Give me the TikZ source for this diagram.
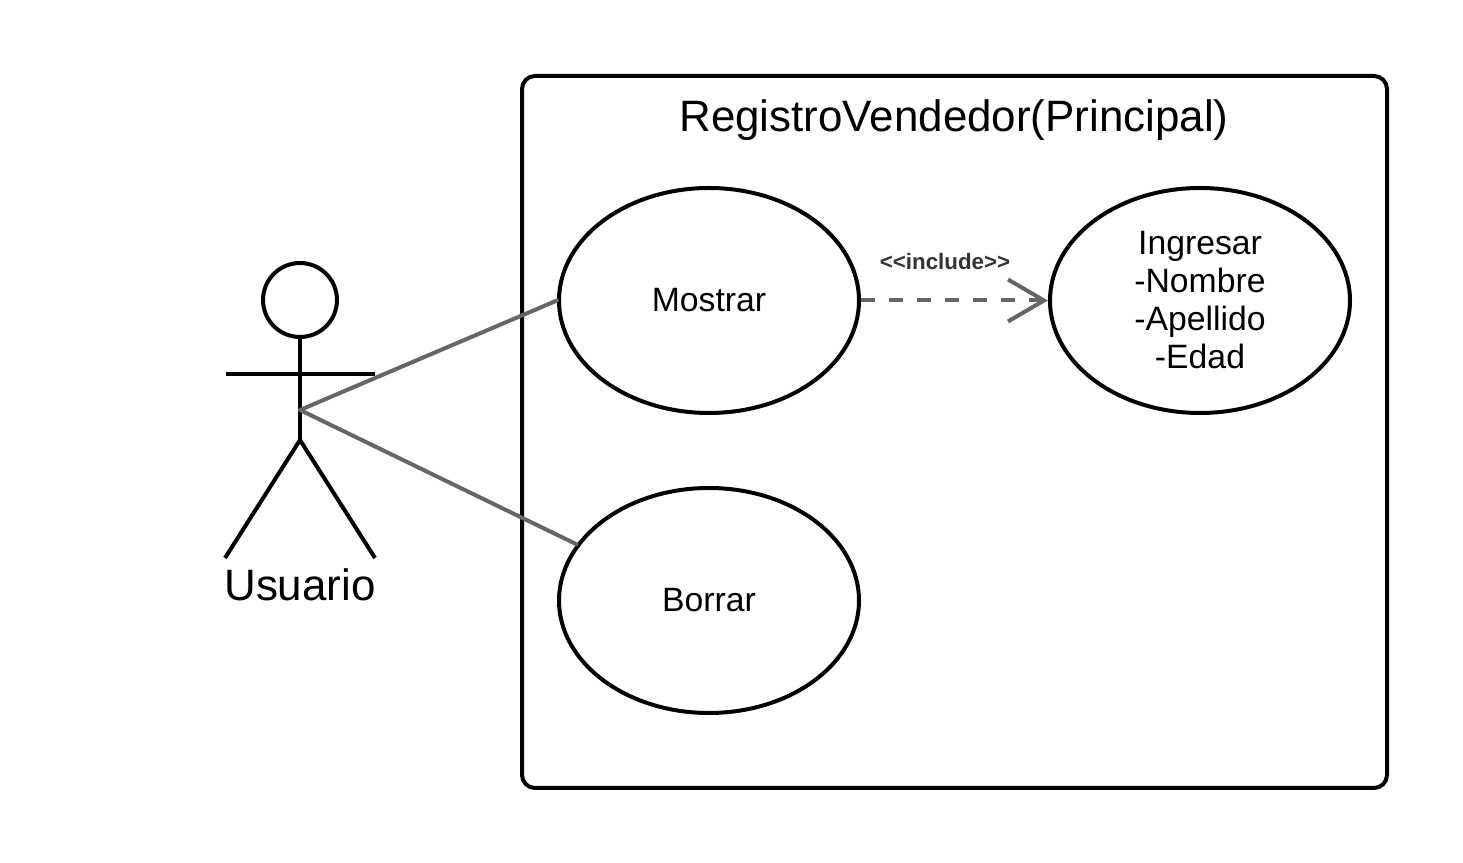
\documentclass[tikz,border=0pt]{standalone}
\usepackage{fontspec}
\setmainfont{Liberation Sans}
\usetikzlibrary{arrows.meta,shapes.geometric}
\definecolor{linkgray}{HTML}{666666}
\definecolor{labelgray}{HTML}{333333}
\tikzset{
  usecase/.style={draw,line width=0.04cm,ellipse,inner sep=0pt,minimum width=3cm,minimum height=2.25cm,align=center,font=\fontsize{9.6}{10.8}\selectfont},
  actorline/.style={line width=0.04cm},
  link/.style={line width=0.04cm,draw=linkgray},
}
\begin{document}
\begin{tikzpicture}
\useasboundingbox (0,0) rectangle (14.63,8.63);
% system frame
\node[draw,line width=0.04cm,rounded corners=0.13cm,minimum width=8.65cm,minimum height=7.12cm,inner sep=0pt] (frame) at (9.545,4.31) {};
\node[font=\fontsize{12.5}{15}\selectfont,inner sep=0pt] (title) at (9.54,7.43) {RegistroVendedor(Principal)};
% use cases
\node[usecase] (mostrar) at (7.09,5.625) {Mostrar};
\node[usecase] (ingresar) at (12.0,5.625) {Ingresar\\-Nombre\\-Apellido\\-Edad};
\node[usecase] (borrar) at (7.09,2.625) {Borrar};
% actor
\node[draw,line width=0.04cm,circle,inner sep=0pt,minimum width=0.74cm] (head) at (3.0,5.63) {};
\coordinate (armL) at (2.26,4.89);
\coordinate (armR) at (3.75,4.89);
\coordinate (hip) at (3.0,4.53);
\coordinate (fork) at (3.0,4.23);
\coordinate (footL) at (2.25,3.05);
\coordinate (footR) at (3.75,3.05);
\draw[actorline] (head) -- (fork);
\draw[actorline] (armL) -- (armR);
\draw[actorline] (footL) -- (fork) -- (footR);
\node[font=\fontsize{12.5}{15}\selectfont,inner sep=0pt] (usuario) at (3.0,2.78) {Usuario};
% links
\draw[link,line cap=round] (hip) -- (mostrar.west);
\draw[link,line cap=round] (hip) -- (borrar.157);
\draw[link,dash pattern=on 0.14cm off 0.14cm,-{Straight Barb[length=0.36cm,width=0.42cm]}] (mostrar.east) -- (ingresar.west);
\node[font=\bfseries\fontsize{6.35}{7}\selectfont,text=labelgray,inner sep=0pt] (include) at (9.45,6.01) {<{}<include>{}>};
\end{tikzpicture}
\end{document}
